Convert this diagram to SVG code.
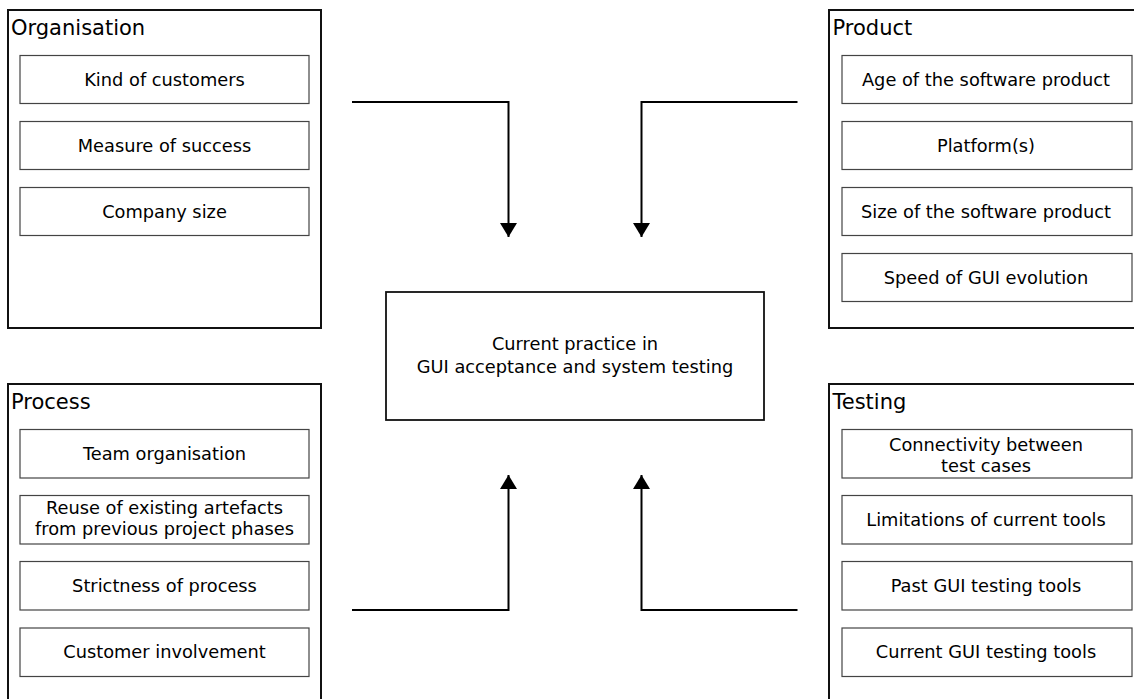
<svg xmlns="http://www.w3.org/2000/svg" width="1134" height="699" viewBox="0 0 1134 699">
  <style>
    text { font-family: "DejaVu Sans", "Liberation Sans", sans-serif; fill: #000; }
    .title { font-size: 21px; }
    .item { font-size: 17.8px; text-anchor: middle; }
    .group { fill: #fff; stroke: #111; stroke-width: 2; }
    .factor { fill: #fff; stroke: #444; stroke-width: 1.2; }
    .core { fill: #fff; stroke: #111; stroke-width: 1.8; }
    .link { fill: none; stroke: #000; stroke-width: 2; marker-end: url(#head); }
  </style>
  <defs>
    <marker id="head" viewBox="0 0 14 17" refX="14" refY="8.5" markerWidth="14" markerHeight="17" markerUnits="userSpaceOnUse" orient="auto">
      <path d="M0,0 L14,8.5 L0,17 Z" fill="#000"/>
    </marker>
  </defs>
  <rect width="1134" height="699" fill="#fff"/>

  <g id="organisation">
    <rect class="group" x="8" y="10" width="313" height="318"/>
    <text class="title" x="11" y="35">Organisation</text>
    <rect class="factor" x="20" y="55.5" width="289" height="48"/>
    <text class="item" x="164.5" y="85.5">Kind of customers</text>
    <rect class="factor" x="20" y="121.5" width="289" height="48"/>
    <text class="item" x="164.5" y="151.5">Measure of success</text>
    <rect class="factor" x="20" y="187.5" width="289" height="48"/>
    <text class="item" x="164.5" y="217.5">Company size</text>
  </g>

  <g id="product">
    <rect class="group" x="829" y="10" width="313" height="318"/>
    <text class="title" x="832.5" y="35">Product</text>
    <rect class="factor" x="842" y="55.5" width="290" height="48"/>
    <text class="item" x="986" y="85.5">Age of the software product</text>
    <rect class="factor" x="842" y="121.5" width="290" height="48"/>
    <text class="item" x="986" y="151.5">Platform(s)</text>
    <rect class="factor" x="842" y="187.5" width="290" height="48"/>
    <text class="item" x="986" y="217.5">Size of the software product</text>
    <rect class="factor" x="842" y="253.5" width="290" height="48"/>
    <text class="item" x="986" y="283.5">Speed of GUI evolution</text>
  </g>

  <g id="process">
    <rect class="group" x="8" y="384" width="313" height="330"/>
    <text class="title" x="11" y="409">Process</text>
    <rect class="factor" x="20" y="429.5" width="289" height="48.5"/>
    <text class="item" x="164.5" y="459.5">Team organisation</text>
    <rect class="factor" x="20" y="495.5" width="289" height="48.5"/>
    <text class="item" x="164.5" y="514">Reuse of existing artefacts</text>
    <text class="item" x="164.5" y="535">from previous project phases</text>
    <rect class="factor" x="20" y="561.5" width="289" height="48.5"/>
    <text class="item" x="164.5" y="591.5">Strictness of process</text>
    <rect class="factor" x="20" y="628" width="289" height="48.5"/>
    <text class="item" x="164.5" y="658">Customer involvement</text>
  </g>

  <g id="testing">
    <rect class="group" x="829" y="384" width="313" height="330"/>
    <text class="title" x="832.5" y="409">Testing</text>
    <rect class="factor" x="842" y="429.5" width="290" height="48.5"/>
    <text class="item" x="986" y="450.5">Connectivity between</text>
    <text class="item" x="986" y="471.5">test cases</text>
    <rect class="factor" x="842" y="495.5" width="290" height="48.5"/>
    <text class="item" x="986" y="525.5">Limitations of current tools</text>
    <rect class="factor" x="842" y="561.5" width="290" height="48.5"/>
    <text class="item" x="986" y="591.5">Past GUI testing tools</text>
    <rect class="factor" x="842" y="628" width="290" height="48.5"/>
    <text class="item" x="986" y="658">Current GUI testing tools</text>
  </g>

  <g id="current-practice">
    <rect class="core" x="386" y="292" width="378" height="128"/>
    <text class="item" x="575" y="350">Current practice in</text>
    <text class="item" x="575" y="372.5">GUI acceptance and system testing</text>
  </g>

  <g id="connectors">
    <path class="link" d="M352,102 H508.5 V237"/>
    <path class="link" d="M797.5,102 H641.5 V237"/>
    <path class="link" d="M352,610 H508.5 V475"/>
    <path class="link" d="M797.5,610 H641.5 V475"/>
  </g>
</svg>
